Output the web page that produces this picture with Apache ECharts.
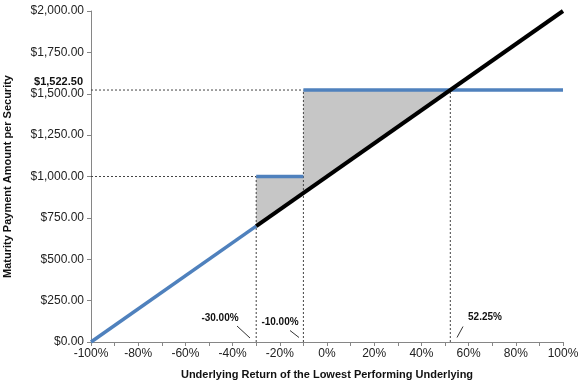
<!DOCTYPE html>
<html>
<head>
<meta charset="utf-8">
<script src="https://cdn.jsdelivr.net/npm/echarts@6/dist/echarts.min.js"></script>
<style>html,body{margin:0;padding:0;background:#fff}#c{width:586px;height:391px}</style>
</head>
<body>
<div id="c"></div>
<script>
// ---- data ----
var xMin = -100, xMax = 100, xStep = 10;
var yMin = 0, yMax = 2000, yStep = 250;
var blueLow = [[-100, 0], [-30, 700]];
var blueMid = [[-30, 1000], [-10, 1000]];
var blueHigh = [[-10, 1522.5], [100, 1522.5]];
var blackLine = [[-30, 700], [100, 2000]];
var shadeUpper = [[-30, 1000], [-10, 1000], [-10, 1522.5], [52.25, 1522.5]];
var shadeLower = [[52.25, 1522.5], [-30, 700]];
var guideH1 = [[-100, 1522.5], [-10, 1522.5]];
var guideH2 = [[-100, 1000], [-30, 1000]];
var guideV1 = [[-30, 0], [-30, 1000]];
var guideV2 = [[-10, 0], [-10, 1522.5]];
var guideV3 = [[52.25, 0], [52.25, 1522.5]];
var annotations = ['-30.00%', '-10.00%', '52.25%', '$1,522.50'];

var FONT = '"Liberation Sans", Arial, sans-serif';
var chart = echarts.init(document.getElementById('c'), null, {renderer: 'canvas'});

function guide(d) {
  return {type: 'line', data: d, symbol: 'none', silent: true, z: 3,
    lineStyle: {color: '#444', width: 1, type: [2, 2]}};
}

var shadePoly = shadeUpper.concat(shadeLower);

chart.setOption({
  animation: false,
  grid: {left: 91, right: 23, top: 11, bottom: 49, containLabel: false, outerBoundsMode: 'none'},
  xAxis: {
    type: 'value', min: xMin, max: xMax, interval: xStep,
    name: 'Underlying Return of the Lowest Performing Underlying',
    nameLocation: 'middle', nameGap: 27,
    nameTextStyle: {fontFamily: FONT, fontWeight: 'bold', fontSize: 11, color: '#111'},
    axisLine: {onZero: false, lineStyle: {color: '#868686', width: 1}},
    axisTick: {length: 4, lineStyle: {color: '#868686'}},
    axisLabel: {fontFamily: FONT, fontSize: 12, color: '#222', margin: 6,
      formatter: function (v) { return (v % 20 === 0) ? v + '%' : ''; }},
    splitLine: {show: false}
  },
  yAxis: {
    type: 'value', min: yMin, max: yMax, interval: yStep,
    name: 'Maturity Payment Amount per Security',
    nameLocation: 'middle', nameGap: 78,
    nameTextStyle: {fontFamily: FONT, fontWeight: 'bold', fontSize: 11, color: '#111'},
    axisLine: {show: true, onZero: false, lineStyle: {color: '#868686', width: 1}},
    axisTick: {show: true, length: 4, lineStyle: {color: '#868686'}},
    axisLabel: {fontFamily: FONT, fontSize: 12, color: '#222', margin: 7,
      formatter: function (v) { return '$' + v.toLocaleString('en-US', {minimumFractionDigits: 2, maximumFractionDigits: 2}); }},
    splitLine: {show: false}
  },
  series: [
    {type: 'custom', z: 1, silent: true, data: [0],
      renderItem: function (params, api) {
        var pts = shadePoly.map(function (p) { return api.coord(p); });
        return {type: 'polygon', shape: {points: pts}, style: {fill: '#c6c6c6', stroke: null}};
      }},
    guide(guideH1), guide(guideH2), guide(guideV1), guide(guideV2), guide(guideV3),
    {type: 'line', data: blueLow, symbol: 'none', z: 5, lineStyle: {color: '#4f81bd', width: 3.5}},
    {type: 'line', data: blueMid, symbol: 'none', z: 5, lineStyle: {color: '#4f81bd', width: 3.5}},
    {type: 'line', data: blueHigh, symbol: 'none', z: 5, lineStyle: {color: '#4f81bd', width: 3.5}},
    {type: 'line', data: blackLine, symbol: 'none', z: 6, lineStyle: {color: '#000', width: 4}}
  ],
  graphic: [
    {type: 'text', x: 220, y: 318, style: {text: annotations[0], font: 'bold 10px ' + FONT, fill: '#111', align: 'center', verticalAlign: 'middle'}},
    {type: 'text', x: 280, y: 322, style: {text: annotations[1], font: 'bold 10px ' + FONT, fill: '#111', align: 'center', verticalAlign: 'middle'}},
    {type: 'text', x: 485, y: 317, style: {text: annotations[2], font: 'bold 10px ' + FONT, fill: '#111', align: 'center', verticalAlign: 'middle'}},
    {type: 'text', x: 83, y: 82, style: {text: annotations[3], font: 'bold 11px ' + FONT, fill: '#111', align: 'right', verticalAlign: 'middle'}},
    {type: 'line', shape: {x1: 237, y1: 326, x2: 250, y2: 338}, style: {stroke: '#333', lineWidth: 1}},
    {type: 'line', shape: {x1: 290, y1: 330.5, x2: 299, y2: 337.5}, style: {stroke: '#333', lineWidth: 1}},
    {type: 'line', shape: {x1: 463, y1: 326.5, x2: 457, y2: 337.5}, style: {stroke: '#333', lineWidth: 1}}
  ]
});
</script>
</body>
</html>
